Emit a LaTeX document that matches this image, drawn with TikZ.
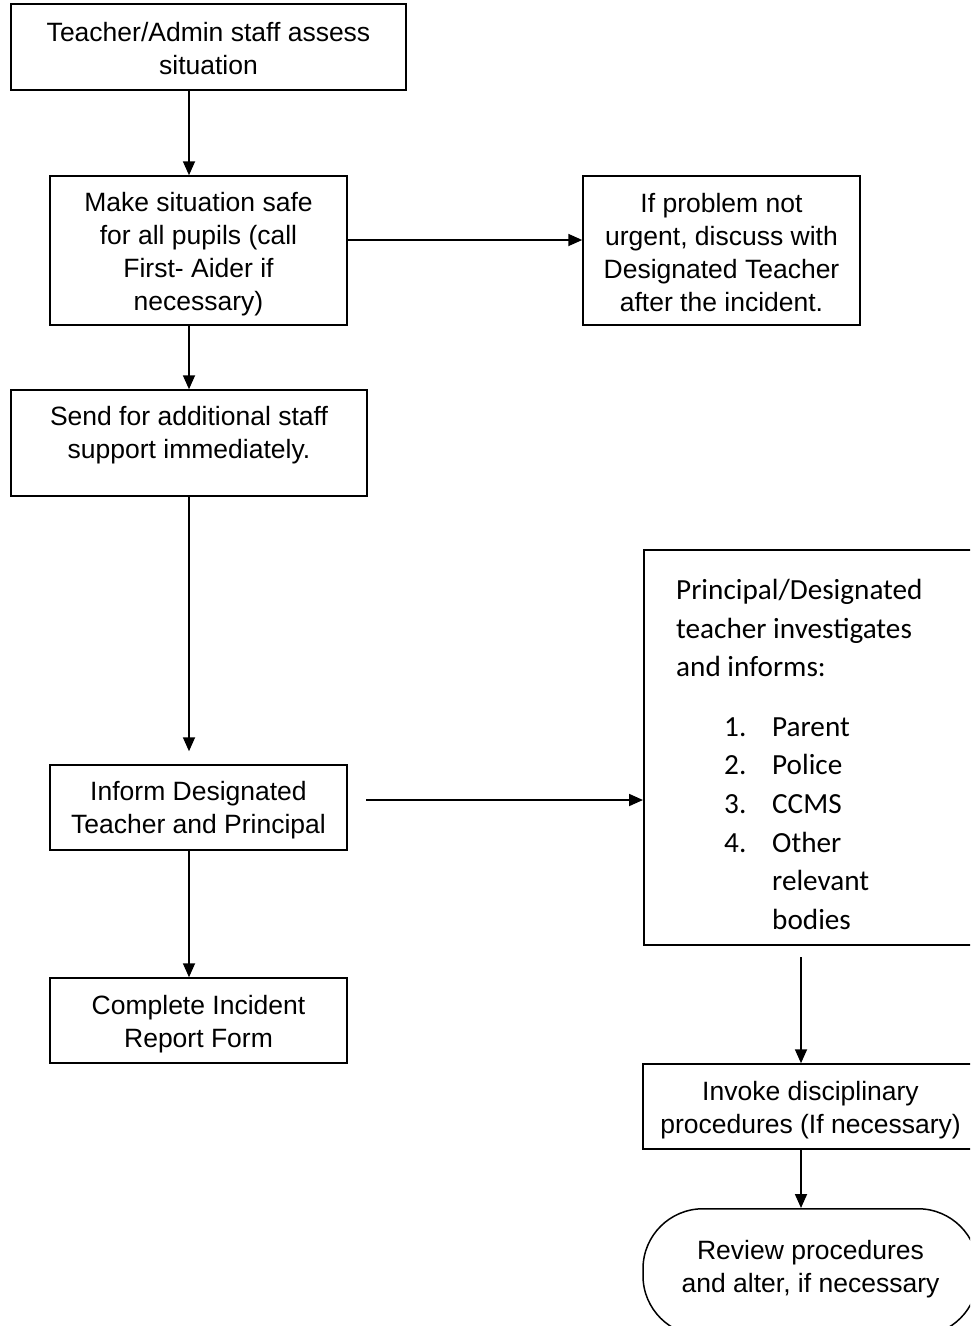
\documentclass[tikz,border=0pt]{standalone}
\usepackage{fontspec}
\setmainfont{Liberation Sans}
\newfontfamily\calibri{Carlito}
\usetikzlibrary{arrows.meta,calc}
\begin{document}
\begin{tikzpicture}[x=1pt,y=1pt,
  box/.style={draw=black, line width=1.5pt, inner sep=0pt},
  txt/.style={inner sep=0pt, align=center, font=\fontsize{26.5}{33}\selectfont},
  arr/.style={line width=1.8pt, -{Triangle[length=14pt,width=12pt]}}]
\useasboundingbox (0,0) rectangle (970,-1326);
\clip (0,0) rectangle (970,-1326);
\fill[white] (0,0) rectangle (970,-1326);
% left column
\node[box, minimum width=395pt, minimum height=86pt] (b1) at (208.5,-47) {};
\node[txt] (t1) at (208.5,-49) {Teacher/Admin staff assess\\situation};
\node[box, minimum width=297pt, minimum height=149pt] (b2) at (198.5,-250.5) {};
\node[txt] (t2) at (198.5,-254) {Make situation safe\\for all pupils (call\\First- Aider if\\necessary)};
\node[box, minimum width=277pt, minimum height=149pt] (b3) at (721.5,-250.5) {};
\node[txt] (t3) at (721.5,-253) {If problem not\\urgent, discuss with\\Designated Teacher\\after the incident.};
\node[box, minimum width=356pt, minimum height=106pt] (b4) at (189,-443) {};
\node[txt] (t4) at (189,-435) {Send for additional staff\\support immediately.};
\node[box, minimum width=297pt, minimum height=85pt] (b5) at (198.5,-807.5) {};
\node[txt] (t5) at (198.5,-810) {Inform Designated\\Teacher and Principal};
\node[box, minimum width=297pt, minimum height=85pt] (b7) at (198.5,-1020.5) {};
\node[txt] (t7) at (198.5,-1024) {Complete Incident\\Report Form};
% right column
\node[box, minimum width=350pt, minimum height=395pt, anchor=north west] (b6) at (643,-549) {};
\node[inner sep=0pt, anchor=base west, align=left, font={\calibri\fontsize{29.2}{38.6}\selectfont}] (t6) at (676,-929.3)
  {Principal/Designated\\teacher investigates\\and informs:\\[21pt]
   \makebox[96pt][l]{\hspace*{48pt}1.}Parent\\
   \makebox[96pt][l]{\hspace*{48pt}2.}Police\\
   \makebox[96pt][l]{\hspace*{48pt}3.}CCMS\\
   \makebox[96pt][l]{\hspace*{48pt}4.}Other\\
   \hspace*{96pt}relevant\\
   \hspace*{96pt}bodies};
\node[box, minimum width=335pt, minimum height=85pt] (b8) at (810.5,-1106.5) {};
\node[txt] (t8) at (810.5,-1110) {Invoke disciplinary\\procedures (If necessary)};
\node[box, rounded corners=60pt, minimum width=335pt, minimum height=127pt, anchor=north] (b9) at (810.5,-1208) {};
\node[txt] (t9) at (810.5,-1269.5) {Review procedures\\and alter, if necessary};
% connectors
\coordinate (h1) at (0,-240);
\coordinate (h2) at (366,-800);
\coordinate (rc) at (801,-957);
\draw[arr] (b1.south -| b4) -- (b2.north -| b4);
\draw[arr] (b2.east |- h1) -- (b3.west |- h1);
\draw[arr] (b2.south -| b4) -- (b4.north);
\draw[arr] (b4.south) -- ($(b5.north -| b4)+(0,13)$);
\draw[arr] (b5.south -| b4) -- (b7.north -| b4);
\draw[arr] (h2) -- (b6.west |- h2);
\draw[arr] (rc) -- (b8.north -| rc);
\draw[arr] (b8.south -| rc) -- (b9.north -| rc);
\end{tikzpicture}
\end{document}
